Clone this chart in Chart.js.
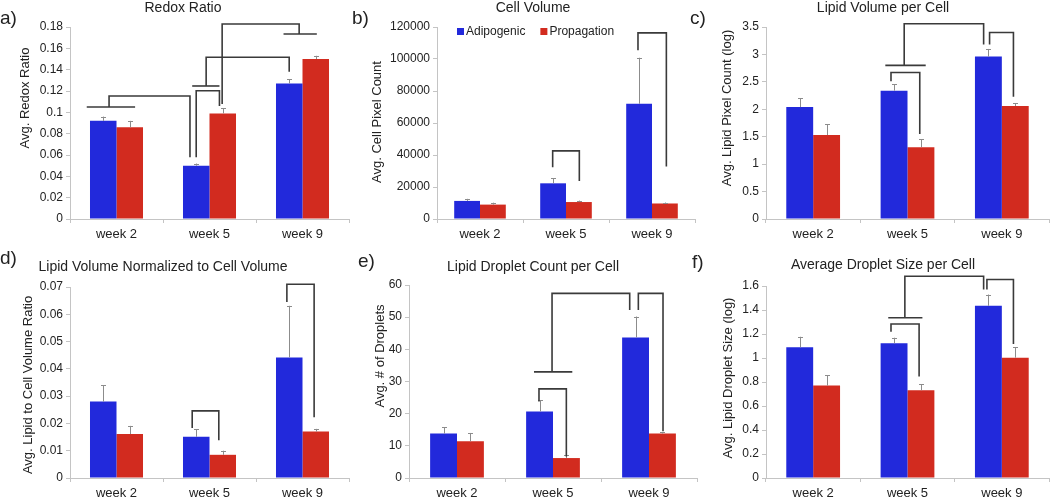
<!DOCTYPE html>
<html><head><meta charset="utf-8">
<script src="https://cdn.jsdelivr.net/npm/chart.js@4.4.1/dist/chart.umd.min.js"></script>
<style>
html,body{margin:0;padding:0;background:#fff;}
#wrap{position:relative;width:1050px;height:499px;overflow:hidden;background:#fff;}
canvas{position:absolute;}
</style></head><body>
<div id="wrap">
<canvas id="pa" width="350" height="250" style="left:0px;top:0px"></canvas>
<canvas id="pb" width="350" height="250" style="left:350px;top:0px"></canvas>
<canvas id="pc" width="365" height="250" style="left:685px;top:0px"></canvas>
<canvas id="pd" width="350" height="249" style="left:0px;top:250px"></canvas>
<canvas id="pe" width="350" height="249" style="left:350px;top:250px"></canvas>
<canvas id="pf" width="365" height="249" style="left:685px;top:250px"></canvas>
</div>
<script>
// ---------- data ----------
const weeks = ['week 2', 'week 5', 'week 9'];
const seriesNames = ['Adipogenic', 'Propagation'];

// a) Redox Ratio
const redoxAdipo = [0.092, 0.050, 0.127];
const redoxAdipoErr = [0.004, 0.002, 0.004];
const redoxProp = [0.086, 0.099, 0.150];
const redoxPropErr = [0.006, 0.005, 0.003];
const redoxTicks = [0, 0.18, 0.02];

// b) Cell Volume
const cellAdipo = [11300, 22300, 72000];
const cellAdipoErr = [1300, 3100, 28800];
const cellProp = [9000, 10600, 9700];
const cellPropErr = [1200, 900, 600];
const cellTicks = [0, 120000, 20000];

// c) Lipid Volume per Cell (log)
const lipidAdipo = [2.04, 2.34, 2.96];
const lipidAdipoErr = [0.16, 0.12, 0.14];
const lipidProp = [1.53, 1.31, 2.06];
const lipidPropErr = [0.20, 0.14, 0.05];
const lipidTicks = [0, 3.5, 0.5];

// d) Lipid Volume Normalized to Cell Volume
const normAdipo = [0.0280, 0.0151, 0.0442];
const normAdipoErr = [0.0060, 0.0028, 0.0189];
const normProp = [0.0161, 0.0085, 0.0170];
const normPropErr = [0.0030, 0.0015, 0.0010];
const normTicks = [0, 0.07, 0.01];

// e) Lipid Droplet Count per Cell
const countAdipo = [13.8, 20.7, 43.7];
const countAdipoErr = [2.0, 3.4, 6.5];
const countProp = [11.4, 6.2, 13.8];
const countPropErr = [2.6, 1.1, 0.5];
const countTicks = [0, 60, 10];

// f) Average Droplet Size per Cell (log)
const sizeAdipo = [1.089, 1.122, 1.435];
const sizeAdipoErr = [0.088, 0.047, 0.094];
const sizeProp = [0.770, 0.731, 1.003];
const sizePropErr = [0.086, 0.050, 0.086];
const sizeTicks = [0, 1.6, 0.2];

// significance brackets: [leg1 category pos, leg1 value, leg2 category pos, leg2 value, top value, T-bar from, T-bar to]
const redoxBrackets = [
  [-0.08, 0.105, 0.79, 0.058, 0.1153, -0.32, 0.20],
  [0.857, 0.058, 1.107, 0.106, 0.1203, null, null],
  [0.964, 0.1247, 1.857, 0.138, 0.1516, 0.814, 1.107],
  [1.964, 0.1734, 1.136, 0.1078, 0.1828, 1.796, 2.154]
];
const cellBrackets = [
  [0.845, 32400, 1.155, 23800, 42600, null, null],
  [1.837, 105400, 2.167, 32800, 116300, null, null]
];
const lipidBrackets = [
  [0.825, 2.51, 1.13, 1.55, 2.67, null, null],
  [0.965, 2.80, 1.807, 3.18, 3.56, 0.765, 1.193],
  [1.87, 3.18, 2.123, 2.23, 3.40, null, null]
];
const normBrackets = [
  [0.814, 0.0183, 1.10, 0.0138, 0.0246, null, null],
  [1.832, 0.0645, 2.125, 0.0223, 0.0710, null, null]
];
const countBrackets = [
  [0.854, 23.8, 1.139, 6.7, 27.7, null, null],
  [0.99, 33.0, 1.799, 52.2, 57.4, 0.802, 1.201],
  [1.889, 52.2, 2.146, 14.5, 57.4, null, null]
];
const sizeBrackets = [
  [0.825, 1.219, 1.123, 0.845, 1.283, null, null],
  [0.972, 1.335, 1.807, 1.571, 1.681, 0.796, 1.158],
  [1.842, 1.571, 2.123, 1.116, 1.654, null, null]
];

// ---------- styling ----------
const FONT = "'Liberation Sans', Arial, Helvetica, sans-serif";
const BLUE = '#2229db';
const RED = '#d22b1f';
const AXIS = '#c4c4c4';
const TXT = '#222';

const panelPlugin = {
  id: 'panel',
  afterDatasetsDraw(chart) {
    const p = chart.config.options.plugins.panel;
    const ctx = chart.ctx, xs = chart.scales.x, ys = chart.scales.y;
    ctx.save();
    // error bars (upper only)
    chart.data.datasets.forEach((ds, di) => {
      const meta = chart.getDatasetMeta(di);
      meta.data.forEach((bar, i) => {
        const y0 = ys.getPixelForValue(ds.data[i]);
        const y1 = ys.getPixelForValue(ds.data[i] + ds.errors[i]);
        ctx.strokeStyle = '#8c8c8c';
        ctx.lineWidth = 1;
        ctx.beginPath();
        ctx.moveTo(Math.round(bar.x) + 0.5, y0);
        ctx.lineTo(Math.round(bar.x) + 0.5, y1);
        ctx.moveTo(Math.round(bar.x) - 2, Math.round(y1) + 0.5);
        ctx.lineTo(Math.round(bar.x) + 3, Math.round(y1) + 0.5);
        ctx.stroke();
      });
    });
    // brackets
    ctx.strokeStyle = '#3a3a3a';
    ctx.lineWidth = 1.6;
    ctx.lineCap = 'butt';
    ctx.lineJoin = 'miter';
    p.brackets.forEach(b => {
      const x1 = xs.getPixelForValue(b[0]), y1 = ys.getPixelForValue(b[1]);
      const x2 = xs.getPixelForValue(b[2]), y2 = ys.getPixelForValue(b[3]);
      const yt = ys.getPixelForValue(b[4]);
      ctx.beginPath();
      ctx.moveTo(x1, y1); ctx.lineTo(x1, yt); ctx.lineTo(x2, yt); ctx.lineTo(x2, y2);
      ctx.stroke();
      if (b[5] !== null) {
        ctx.beginPath();
        ctx.moveTo(xs.getPixelForValue(b[5]), y1);
        ctx.lineTo(xs.getPixelForValue(b[6]), y1);
        ctx.stroke();
      }
    });
    ctx.restore();
  },
  afterDraw(chart) {
    const p = chart.config.options.plugins.panel;
    const ctx = chart.ctx, area = chart.chartArea;
    ctx.save();
    ctx.fillStyle = TXT;
    ctx.textBaseline = 'middle';
    // title
    ctx.font = '14px ' + FONT;
    ctx.textAlign = 'center';
    ctx.fillText(p.title, p.titlePos[0], p.titlePos[1]);
    // panel letter
    ctx.font = '19px ' + FONT;
    ctx.textAlign = 'left';
    ctx.fillText(p.letter, p.letterPos[0], p.letterPos[1]);
    // y title
    ctx.font = '13px ' + FONT;
    ctx.translate(p.yTitlePos[0], p.yTitlePos[1]);
    ctx.rotate(-Math.PI / 2);
    ctx.textAlign = 'center';
    ctx.fillText(p.yTitle, 0, 0);
    ctx.restore();
    // legend
    if (p.legend) {
      ctx.save();
      ctx.font = '12px ' + FONT;
      ctx.textBaseline = 'middle';
      ctx.textAlign = 'left';
      let x = area.left + 20;
      const y = area.top + 4.5;
      chart.data.datasets.forEach(ds => {
        ctx.fillStyle = ds.backgroundColor;
        ctx.fillRect(x, y - 3.5, 7, 7);
        ctx.fillStyle = TXT;
        ctx.fillText(ds.label, x + 9, y);
        x += 9 + ctx.measureText(ds.label).width + 15;
      });
      ctx.restore();
    }
  }
};

function fmt(v) { return String(parseFloat(Number(v).toFixed(6))); }

function makePanel(id, c) {
  const el = document.getElementById(id);
  const W = el.width, H = el.height;
  return new Chart(el, {
    type: 'bar',
    data: {
      labels: weeks,
      datasets: [
        { label: seriesNames[0], data: c.adipo, errors: c.adipoErr, backgroundColor: BLUE, borderWidth: 0 },
        { label: seriesNames[1], data: c.prop, errors: c.propErr, backgroundColor: RED, borderWidth: 0 }
      ]
    },
    options: {
      responsive: false,
      animation: false,
      devicePixelRatio: 1,
      datasets: { bar: { barPercentage: 1.0, categoryPercentage: c.catPct } },
      layout: { padding: { left: 0, top: c.area[1], right: W - c.area[2], bottom: 0 } },
      plugins: {
        legend: { display: false },
        tooltip: { enabled: false },
        title: { display: false },
        panel: c
      },
      scales: {
        x: {
          grid: { display: true, drawOnChartArea: false, drawTicks: true, tickLength: 4, color: AXIS, offset: true },
          border: { display: true, color: AXIS, width: 1 },
          ticks: { color: TXT, font: { family: FONT, size: 13 }, padding: 4, maxRotation: 0 },
          afterFit(s) { s.height = H - c.area[3]; }
        },
        y: {
          min: c.ticks[0], max: c.ticks[1],
          grid: { display: true, drawOnChartArea: false, drawTicks: true, tickLength: 4, color: AXIS },
          border: { display: true, color: AXIS, width: 1 },
          ticks: { stepSize: c.ticks[2], color: TXT, font: { family: FONT, size: 12 }, padding: 3, callback: fmt },
          afterFit(s) { s.width = c.area[0]; }
        }
      }
    },
    plugins: [panelPlugin]
  });
}

makePanel('pa', {
  adipo: redoxAdipo, adipoErr: redoxAdipoErr, prop: redoxProp, propErr: redoxPropErr,
  ticks: redoxTicks, brackets: redoxBrackets, catPct: 0.57,
  area: [70, 27, 349, 219],
  title: 'Redox Ratio', titlePos: [183, 8],
  letter: 'a)', letterPos: [0, 19],
  yTitle: 'Avg. Redox Ratio', yTitlePos: [25, 98], legend: false
});
makePanel('pb', {
  adipo: cellAdipo, adipoErr: cellAdipoErr, prop: cellProp, propErr: cellPropErr,
  ticks: cellTicks, brackets: cellBrackets, catPct: 0.6,
  area: [87, 27, 345, 219],
  title: 'Cell Volume', titlePos: [183, 8],
  letter: 'b)', letterPos: [2, 19],
  yTitle: 'Avg. Cell Pixel Count', yTitlePos: [27, 122], legend: true
});
makePanel('pc', {
  adipo: lipidAdipo, adipoErr: lipidAdipoErr, prop: lipidProp, propErr: lipidPropErr,
  ticks: lipidTicks, brackets: lipidBrackets, catPct: 0.57,
  area: [81, 27, 364, 219],
  title: 'Lipid Volume per Cell', titlePos: [198, 8],
  letter: 'c)', letterPos: [5, 19],
  yTitle: 'Avg. Lipid Pixel Count (log)', yTitlePos: [42, 108], legend: false
});
makePanel('pd', {
  adipo: normAdipo, adipoErr: normAdipoErr, prop: normProp, propErr: normPropErr,
  ticks: normTicks, brackets: normBrackets, catPct: 0.57,
  area: [70, 37, 349, 228],
  title: 'Lipid Volume Normalized to Cell Volume', titlePos: [163, 17],
  letter: 'd)', letterPos: [0, 9],
  yTitle: 'Avg. Lipid to Cell Volume Ratio', yTitlePos: [28, 135], legend: false
});
makePanel('pe', {
  adipo: countAdipo, adipoErr: countAdipoErr, prop: countProp, propErr: countPropErr,
  ticks: countTicks, brackets: countBrackets, catPct: 0.56,
  area: [59, 35, 347, 228],
  title: 'Lipid Droplet Count per Cell', titlePos: [183, 17],
  letter: 'e)', letterPos: [8, 12],
  yTitle: 'Avg. # of Droplets', yTitlePos: [30, 106], legend: false
});
makePanel('pf', {
  adipo: sizeAdipo, adipoErr: sizeAdipoErr, prop: sizeProp, propErr: sizePropErr,
  ticks: sizeTicks, brackets: sizeBrackets, catPct: 0.57,
  area: [81, 36, 364, 228],
  title: 'Average Droplet Size per Cell', titlePos: [198, 15],
  letter: 'f)', letterPos: [7, 13],
  yTitle: 'Avg. Lipid Droplet Size (log)', yTitlePos: [43, 128], legend: false
});
</script>
</body></html>
